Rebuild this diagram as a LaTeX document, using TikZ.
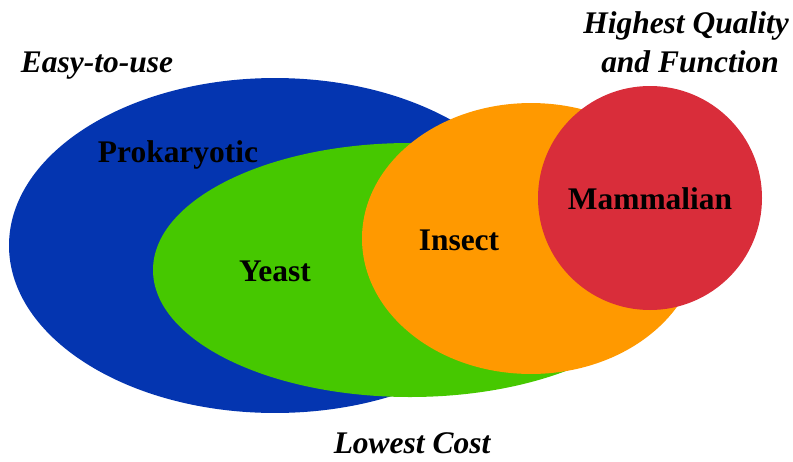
\documentclass[tikz,border=0pt]{standalone}
\usepackage{fontspec}
\setmainfont{Liberation Serif}
\definecolor{cblue}{RGB}{4,53,176}
\definecolor{cgreen}{RGB}{70,200,0}
\definecolor{corange}{RGB}{255,153,0}
\definecolor{cred}{RGB}{217,45,58}
\tikzset{
  lbl/.style={anchor=base,inner sep=0pt,font=\fontsize{23.6}{28}\selectfont\bfseries},
  tag/.style={anchor=base,inner sep=0pt,font=\fontsize{23.6}{28}\selectfont\bfseries\itshape,align=center}
}
\begin{document}
\begin{tikzpicture}[x=0.75pt,y=-0.75pt]
\useasboundingbox (0,0) rectangle (793,461);
\fill[cblue] (275,245.5) ellipse [x radius=199.5pt, y radius=125.6pt];
\fill[cgreen] (410,270) ellipse [x radius=192.75pt, y radius=95.25pt];
\fill[corange] (531,238.5) ellipse [x radius=126.75pt, y radius=101.6pt];
\fill[cred] (650,198) circle [radius=84pt];
\node[lbl] (prok) at (178,162) {Prokaryotic};
\node[lbl] (yeast) at (275,281) {Yeast};
\node[lbl] (insect) at (459,250) {Insect};
\node[lbl] (mamm) at (650,209) {Mammalian};
\node[tag] (easy) at (97,72) {Easy-to-use};
\node[tag] (hq) at (686,33) {Highest Quality};
\node[tag] (af) at (690,72) {and Function};
\node[tag] (cost) at (412,453) {Lowest Cost};
\end{tikzpicture}
\end{document}
